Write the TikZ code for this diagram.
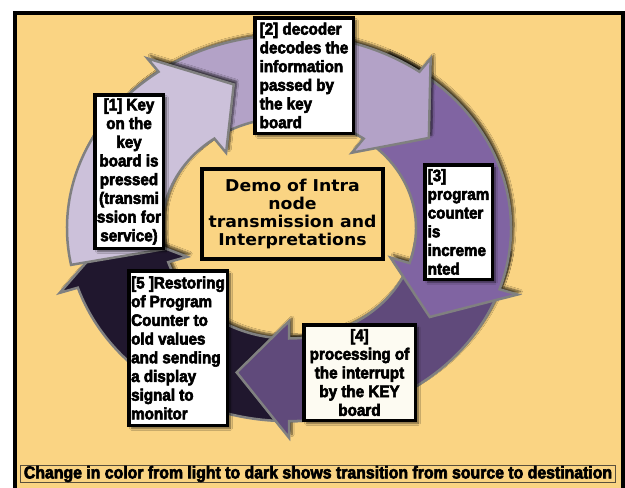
\documentclass[tikz,border=0pt]{standalone}
\usepackage{fontspec}
\setmainfont{Liberation Sans}
\newfontfamily\notefont{Liberation Sans}[FakeStretch=0.92, BoldFeatures={FakeBold=3.5}]
\newfontfamily\titlefont{DejaVu Sans}[FakeStretch=1.06]
\usetikzlibrary{shadows,shadows.blur}

\definecolor{paper}{RGB}{250,212,131}
\definecolor{ringline}{RGB}{128,128,128}
\definecolor{arrowA}{RGB}{204,193,218}
\definecolor{arrowB}{RGB}{179,162,199}
\definecolor{arrowC}{RGB}{128,100,162}
\definecolor{arrowD}{RGB}{96,74,123}
\definecolor{arrowE}{RGB}{32,23,46}
\definecolor{cream}{RGB}{253,251,242}
\definecolor{capline}{RGB}{90,80,60}

\tikzset{
  ringarrow/.style={draw=ringline, line width=2.5pt, line join=miter,
    blur shadow={shadow xshift=3pt, shadow yshift=3pt, shadow opacity=70, shadow blur steps=6}},
  notebox/.style={draw=black, line width=3.5pt, fill=white, inner sep=1pt,
    font=\notefont\bfseries\fontsize{16.5}{18.7}\selectfont,
    blur shadow={shadow xshift=3pt, shadow yshift=-3pt, shadow opacity=60, shadow blur steps=6}},
}

\begin{document}
\begin{tikzpicture}[x=1pt,y=-1pt]
\useasboundingbox (0,0) rectangle (625,488);
\clip (0,0) rectangle (625,488);

%frame
\draw[line width=4pt, fill=paper] (14.7,12.8) rectangle (622.5,500);

%ring of arrows, darkest first
\begin{scope}[shift={(289,228)}, yscale=-0.87]
\draw[ringarrow, fill=arrowE] (280:222) arc[start angle=280, end angle=198, radius=222] -- (198:241) -- (180.5:174) -- (198:107) -- (198:127) arc[start angle=198, end angle=280, radius=127] -- cycle;
\draw[ringarrow, fill=arrowD] (352:222) arc[start angle=352, end angle=270, radius=222] -- (270:241) -- (252.5:174) -- (270:107) -- (270:127) arc[start angle=270, end angle=352, radius=127] -- cycle;
\draw[ringarrow, fill=arrowC] (64:222) arc[start angle=64, end angle=-18.5, radius=222] -- (-18.5:241) -- (-36:174) -- (-18.5:107) -- (-18.5:127) arc[start angle=-18.5, end angle=64, radius=127] -- cycle;
\draw[ringarrow, fill=arrowB] (136:222) arc[start angle=136, end angle=54, radius=222] -- (54:241) -- (36.5:174) -- (54:107) -- (54:127) arc[start angle=54, end angle=136, radius=127] -- cycle;
\draw[ringarrow, fill=arrowA] (191:222) arc[start angle=191, end angle=126, radius=222] -- (126:241) -- (108.5:174) -- (126:107) -- (126:127) arc[start angle=126, end angle=191, radius=127] -- cycle;
\end{scope}

%steps
\node[notebox, align=center, minimum width=68.5, minimum height=153.5] (keypress) at (129,171.5)
  {[1] Key\\on the\\key\\board is\\pressed\\(transmi\\ssion for\\service)};
\node[notebox, align=left, minimum width=98.5, minimum height=115.5] (decoder) at (304,75.5)
  {[2] decoder\\decodes the\\information\\passed by\\the key\\board};
\node[notebox, align=left, minimum width=67.5, minimum height=114.5] (counter) at (458.5,222)
  {[3]\\program\\counter\\is\\increme\\nted};
\node[notebox, fill=cream, align=center, minimum width=111.5, minimum height=95.5] (interrupt) at (359.5,372.5)
  {[4]\\processing of\\the interrupt\\by the KEY\\board};
\node[notebox, align=left, minimum width=98.5, minimum height=154.5] (restore) at (178,348)
  {[5 ]Restoring\\of Program\\Counter to\\old values\\and sending\\a display\\signal to\\monitor};

%title and caption
\node[draw=black, line width=4pt, fill=paper, align=center, inner sep=1pt,
  minimum width=181, minimum height=90,
  font=\titlefont\bfseries\fontsize{16.3}{18.3}\selectfont] (title) at (292.5,214)
  {Demo of Intra\\node\\transmission and\\Interpretations};
\node[draw=capline, line width=1.2pt, inner sep=0pt, minimum width=594.8, minimum height=16.8,
  font=\notefont\bfseries\fontsize{17.2}{17}\selectfont] (caption) at (318,474)
  {Change in color from light to dark shows transition from source to destination};
\end{tikzpicture}
\end{document}
